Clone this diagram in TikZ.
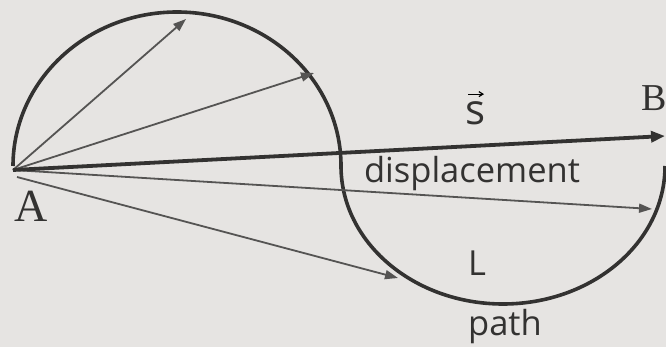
\documentclass[tikz,border=0pt]{standalone}
\usepackage{fontspec}
\setmainfont{Liberation Serif}
\setsansfont{Open Sans}
\usetikzlibrary{arrows.meta}
\definecolor{paper}{HTML}{E6E4E2}
\definecolor{ink}{HTML}{333231}
\definecolor{thin}{HTML}{555453}
\tikzset{
  curve/.style={draw=ink, line width=3.6pt},
  ray/.style={draw=thin, line width=1.8pt, -{Triangle[length=13pt,width=9pt,fill=thin]}},
  disp/.style={draw=ink, line width=3.8pt, -{Triangle[length=14pt,width=11pt,fill=ink]}},
  lab/.style={font=\sffamily\fontsize{34.5}{34.5}\selectfont, text=ink, inner sep=0pt},
  pt/.style={font=\fontsize{#1}{#1}\selectfont, text=ink, inner sep=0pt}
}
\begin{document}
\begin{tikzpicture}[x=1pt,y=-1pt]
\fill[paper] (0,0) rectangle (666,347);
\useasboundingbox (0,0) rectangle (666,347);
% points
\coordinate (A) at (13,170);
\coordinate (A2) at (17,177);
\coordinate (t1) at (186,19);
\coordinate (t2) at (314,73);
\coordinate (t3) at (652,209);
\coordinate (t4) at (398,278);
\coordinate (Bt) at (665,136);
\coordinate (J) at (341,164);
% path arcs
\draw[curve] (13,166) arc[start angle=180, end angle=360, x radius=164, y radius=154]
  arc[start angle=180, end angle=0, x radius=162, y radius=138];
% rays
\draw[ray] (A) -- (t1);
\draw[ray] (A) -- (t2);
\draw[ray] (A) -- (t3);
\draw[ray] (A2) -- (t4);
\draw[disp] (A) -- (Bt);
% labels
\node[pt=46] (lA) at (31,206) {A};
\node[pt=38] (lB) at (654,98) {B};
\node[lab, font=\sffamily\fontsize{42}{42}\selectfont] (s) at (476,113) {s};
\draw[thin, line width=1.2pt, -{Straight Barb[length=4pt,width=5pt]}] ([xshift=-8pt,yshift=7pt]s.north) -- ([xshift=8pt,yshift=7pt]s.north);
\node[lab, anchor=base] (disptext) at (472,183) {displacement};
\node[lab] (L) at (477,263) {L};
\node[lab] (path) at (505,327) {path};
\end{tikzpicture}
\end{document}
